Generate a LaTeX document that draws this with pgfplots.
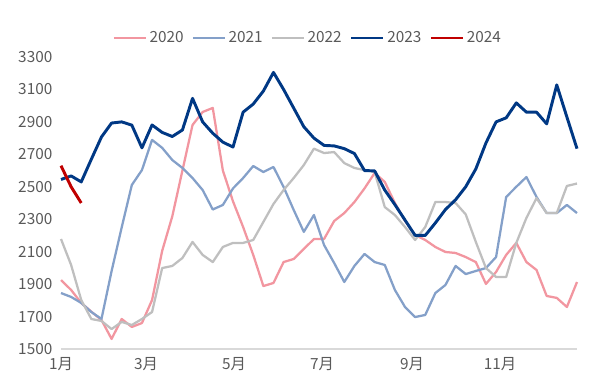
\documentclass[border=0pt]{standalone}
\usepackage{pgfplots}
\pgfplotsset{compat=1.18}
\usepackage{fontspec}
\setmainfont{Noto Sans CJK SC}
\definecolor{c20}{RGB}{242,150,160}
\definecolor{c21}{RGB}{132,160,201}
\definecolor{c22}{RGB}{191,191,191}
\definecolor{c23}{RGB}{0,56,132}
\definecolor{c24}{RGB}{192,0,0}
\definecolor{tk}{RGB}{89,89,89}
\definecolor{ax}{RGB}{217,217,217}
\begin{document}
\begin{tikzpicture}
\begin{axis}[
  at={(0,0)}, anchor=south west,
  scale only axis, width=387pt, height=219pt,
  xmin=0, xmax=51, ymin=1500, ymax=3300,
  ytick={1500,1700,...,3300},
  xtick={0,8.4,17.1,25.8,34.7,43.4},
  xticklabels={1月,3月,5月,7月,9月,11月},
  axis x line*=bottom, axis y line*=left,
  x axis line style={ax, line width=0.8pt, -},
  y axis line style={draw=none},
  major tick length=0pt,
  tick label style={font=\fontsize{11.5}{13}\selectfont, text=tk},
  /pgf/number format/assume math mode=true,
  /pgf/number format/1000 sep={},
  yticklabel style={xshift=-3pt},
  xticklabel style={yshift=-3pt},
  clip=false,
  legend style={at={(0.479,1.065)}, anchor=center, draw=none, fill=none,
    font=\fontsize{11.5}{13}\selectfont, text=tk, legend columns=5,
    /tikz/every even column/.append style={column sep=4pt}},
  legend image code/.code={\draw[#1] (0pt,0pt) -- (24pt,0pt);},
  every axis plot/.append style={line join=round},
]
\addplot[c20, line width=1.7pt] coordinates {
(0,1925)(1,1864)(2,1784)(3,1730)(4,1679)(5,1562)(6,1685)(7,1636)(8,1660)(9,1802)
(10,2105)(11,2318)(12,2600)(13,2881)(14,2961)(15,2986)(16,2600)(17,2410)(18,2252)(19,2080)
(20,1888)(21,1907)(22,2036)(23,2055)(24,2117)(25,2178)(26,2178)(27,2289)(28,2338)(29,2406)
(30,2490)(31,2585)(32,2530)(33,2400)(34,2290)(35,2203)(36,2172)(37,2129)(38,2098)(39,2092)
(40,2067)(41,2036)(42,1901)(43,1975)(44,2080)(45,2154)(46,2036)(47,1987)(48,1827)(49,1815)
(50,1759)(51,1913)};
\addlegendentry{2020}
\addplot[c21, line width=1.7pt] coordinates {
(0,1845)(1,1821)(2,1784)(3,1728)(4,1685)(5,1980)(6,2250)(7,2511)(8,2603)(9,2789)
(10,2740)(11,2665)(12,2616)(13,2554)(14,2480)(15,2360)(16,2388)(17,2490)(18,2554)(19,2628)
(20,2591)(21,2622)(22,2499)(23,2357)(24,2222)(25,2326)(26,2141)(27,2030)(28,1913)(29,2012)
(30,2086)(31,2036)(32,2018)(33,1864)(34,1759)(35,1697)(36,1710)(37,1845)(38,1895)(39,2012)
(40,1962)(41,1981)(42,1999)(43,2067)(44,2437)(45,2500)(46,2560)(47,2437)(48,2338)(49,2338)
(50,2388)(51,2338)};
\addlegendentry{2021}
\addplot[c22, line width=1.7pt] coordinates {
(0,2178)(1,2018)(2,1802)(3,1685)(4,1673)(5,1623)(6,1667)(7,1648)(8,1685)(9,1728)
(10,1999)(11,2012)(12,2061)(13,2160)(14,2080)(15,2036)(16,2129)(17,2154)(18,2154)(19,2172)
(20,2283)(21,2394)(22,2480)(23,2554)(24,2634)(25,2735)(26,2708)(27,2714)(28,2646)(29,2616)
(30,2603)(31,2591)(32,2375)(33,2326)(34,2252)(35,2172)(36,2252)(37,2406)(38,2406)(39,2400)
(40,2330)(41,2160)(42,1999)(43,1944)(44,1944)(45,2154)(46,2308)(47,2430)(48,2338)(49,2338)
(50,2505)(51,2520)};
\addlegendentry{2022}
\addplot[c23, line width=2.2pt] coordinates {
(0,2545)(1,2567)(2,2530)(3,2670)(4,2807)(5,2893)(6,2900)(7,2880)(8,2740)(9,2881)
(10,2835)(11,2810)(12,2850)(13,3045)(14,2900)(15,2830)(16,2775)(17,2745)(18,2960)(19,3010)
(20,3090)(21,3205)(22,3100)(23,2985)(24,2870)(25,2800)(26,2755)(27,2752)(28,2735)(29,2705)
(30,2600)(31,2598)(32,2480)(33,2390)(34,2295)(35,2200)(36,2200)(37,2277)(38,2360)(39,2420)
(40,2500)(41,2610)(42,2770)(43,2900)(44,2925)(45,3017)(46,2960)(47,2960)(48,2888)(49,3128)
(50,2930)(51,2735)};
\addlegendentry{2023}
\addplot[c24, line width=2.2pt] coordinates {(0,2630)(1,2500)(2,2400)};
\addlegendentry{2024}
\end{axis}
\pgfresetboundingbox
\path[use as bounding box] (-45.75pt,-30.75pt) rectangle (400.5pt,261.75pt);
\end{tikzpicture}
\end{document}
